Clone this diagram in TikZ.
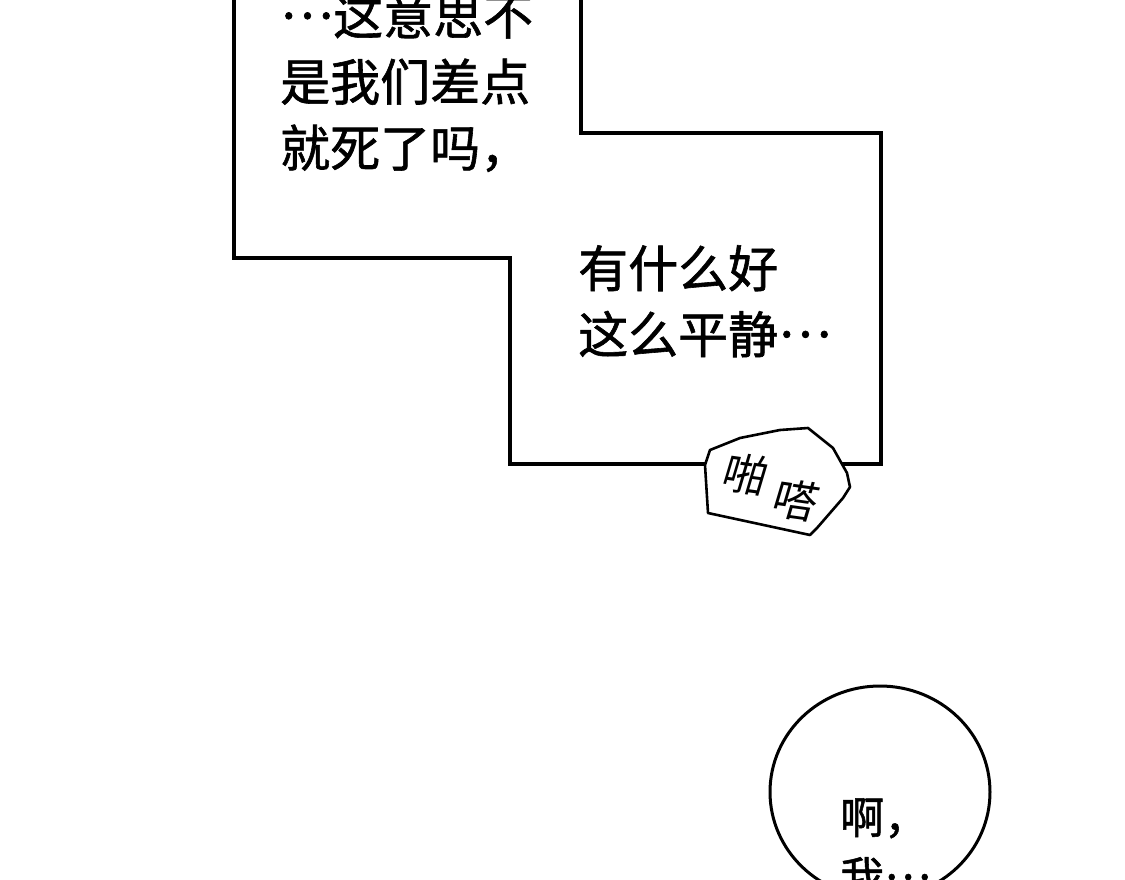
\documentclass[tikz,border=0pt]{standalone}
\usepackage{fontspec}
\newfontfamily\cjk{Noto Sans CJK SC}[FakeBold=1.2]
\newfontfamily\cjkl{Noto Sans CJK SC}[FakeSlant=0.15]
\newcommand{\mydots}{\raisebox{0.32em}{…}}
\begin{document}
\begin{tikzpicture}[x=1pt,y=-1pt,
  line/.style={line width=3.4pt,line join=miter},
  txt/.style={font=\cjk\fontsize{50}{66}\selectfont,anchor=north west,align=left,inner sep=0pt},
  txts/.style={font=\cjk\fontsize{44}{60}\selectfont,anchor=north west,align=left,inner sep=0pt},
  sfx/.style={font=\cjkl\fontsize{44}{44}\selectfont,inner sep=0pt}]
\useasboundingbox (0,0) rectangle (1125,879);
\draw[line] (234,-5) -- (234,258) -- (510,258) -- (510,464) -- (881,464) -- (881,133) -- (581,133) -- (581,-5);
\node[txt] (t1) at (280,-8) {\mydots 这意思不\\是我们差点\\就死了吗，};
\node[txt] (t2) at (578,245) {有什么好\\这么平静\mydots};
\draw[line width=2.6pt,fill=white,line join=round] (710,450) -- (740,438) -- (780,430) -- (808,428) -- (833,448) -- (847,473) -- (850,487) -- (843,498) -- (817,528) -- (810,535) -- (708,513) -- (705,465) -- cycle;
\node[sfx,rotate=-8] (s1) at (744,474) {啪};
\node[sfx,rotate=-8] (s2) at (794,500) {嗒};
\draw[line width=3pt,fill=white] (880,792) ellipse [x radius=110,y radius=106];
\node[txts] (t3) at (840,798) {啊，\\我\mydots};
\end{tikzpicture}
\end{document}
